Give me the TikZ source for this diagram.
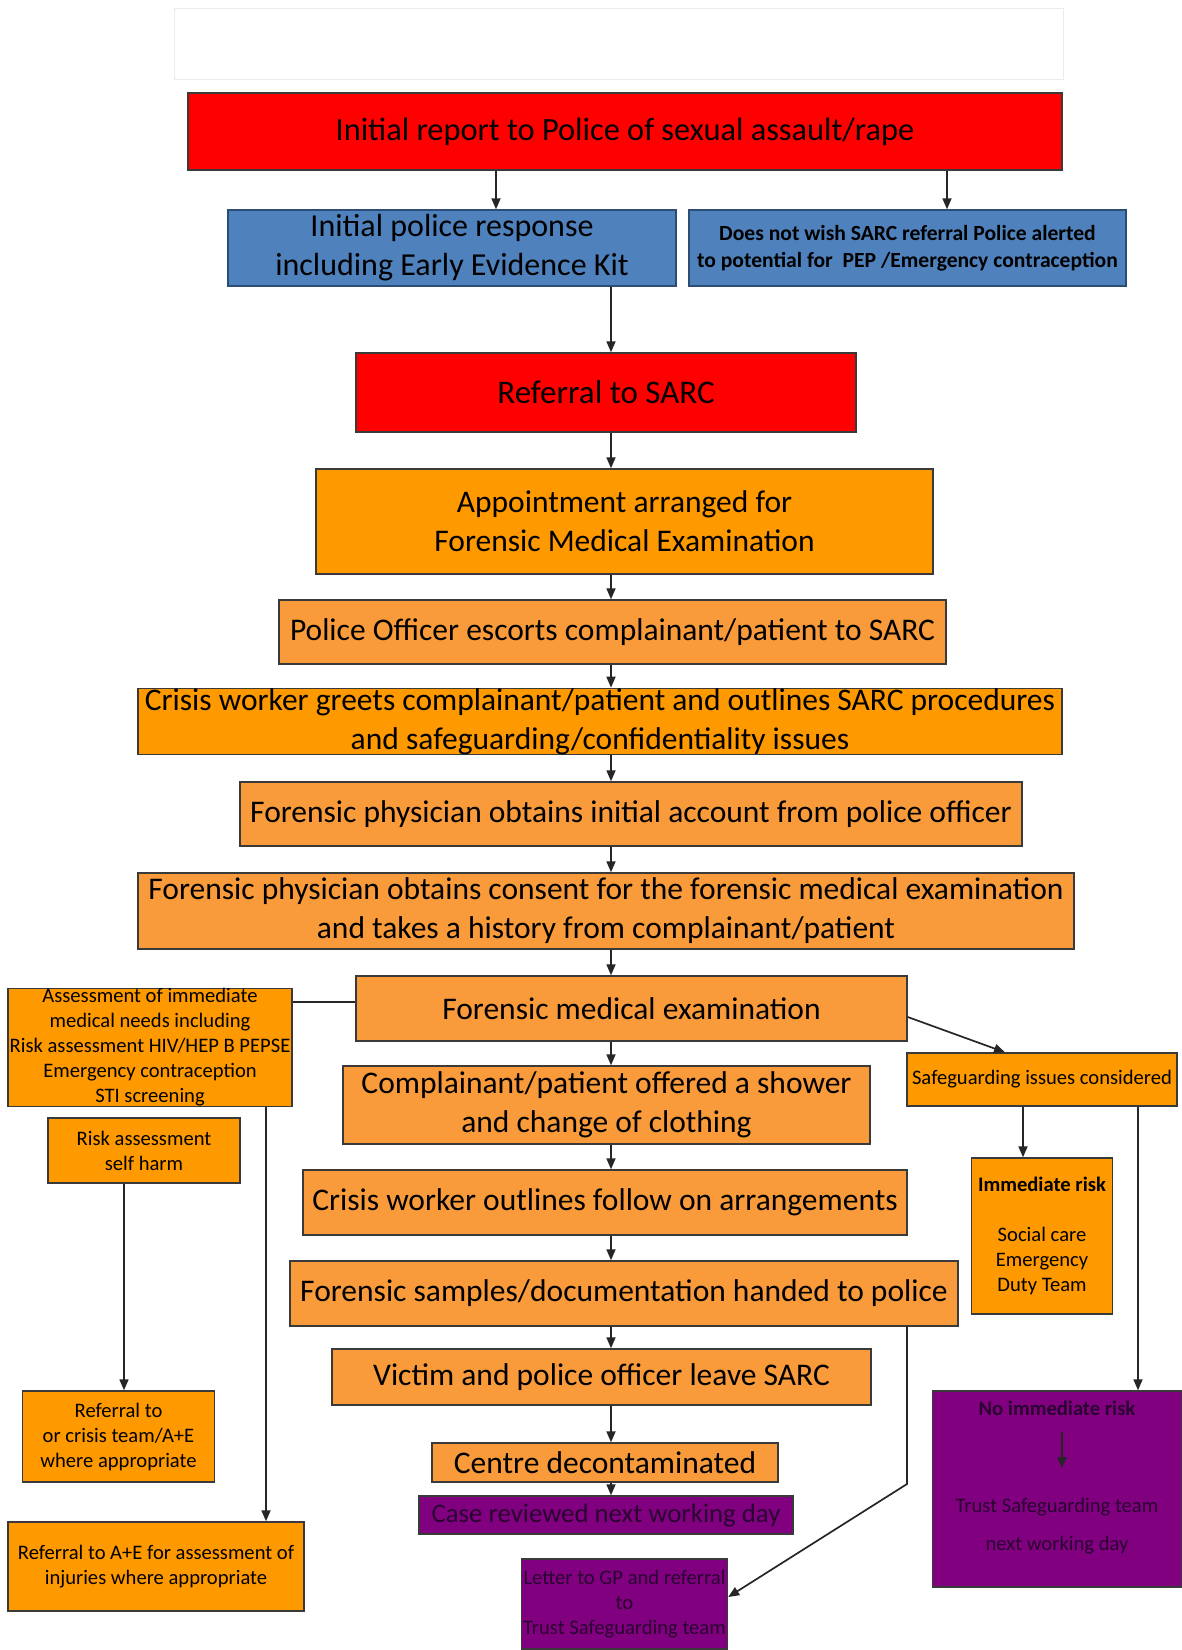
\documentclass[tikz,border=0pt]{standalone}
\usepackage{fontspec}
\setmainfont{Carlito}
\usetikzlibrary{arrows.meta}

\definecolor{sarcred}{HTML}{FF0000}
\definecolor{polblue}{HTML}{4F81BD}
\definecolor{polblueline}{HTML}{2C4D75}
\definecolor{orA}{HTML}{FF9900}
\definecolor{orB}{HTML}{F99B3A}
\definecolor{sarcpurple}{HTML}{800080}
\definecolor{purpletext}{HTML}{2A0030}
\definecolor{boxline}{HTML}{3A3A3A}
\definecolor{conn}{HTML}{262626}

\begin{document}
\begin{tikzpicture}[x=0.5pt,y=-0.5pt,
  box/.style={draw=boxline, line width=0.7pt, inner sep=0pt, align=center, text=black},
  redbox/.style={box, fill=sarcred},
  bluebox/.style={box, fill=polblue, draw=polblueline},
  orabox/.style={box, fill=orA},
  orbbox/.style={box, fill=orB},
  purbox/.style={box, fill=sarcpurple, text=purpletext},
  big/.style={font=\fontsize{15.75}{19.5}\selectfont},
  small/.style={font=\fontsize{10.3}{12.5}\selectfont},
  arr/.style={draw=conn, line width=0.85pt, -{Triangle[length=5.5pt,width=4.5pt]}},
  link/.style={draw=conn, line width=0.85pt},
]
\useasboundingbox[fill=white] (0,0) rectangle (1182,1650);

% faint empty header panel
\draw[black!8, line width=0.5pt] (174,8) rectangle (1063,79);

% ---- main column ----
\node[redbox, font=\fontsize{16.2}{19.5}\selectfont, minimum width=437pt, minimum height=38.5pt] (report) at (625,131.5)
  {Initial report to Police of sexual assault/rape};
\node[bluebox, font=\fontsize{16}{19.5}\selectfont, minimum width=224pt, minimum height=38pt] (police) at (452,248)
  {Initial police response\\including Early Evidence Kit};
\node[bluebox, font=\bfseries\fontsize{10.8}{13.5}\selectfont, minimum width=218.5pt, minimum height=38pt] (nosarc) at (907.5,248)
  {Does not wish SARC referral Police alerted\\to potential for\ \ PEP /Emergency contraception};
\node[redbox, font=\fontsize{16.5}{19.5}\selectfont, minimum width=250pt, minimum height=39.5pt] (sarcref) at (606,392.5)
  {Referral to SARC};
\node[orabox, big, minimum width=308.5pt, minimum height=52.5pt] (appt) at (624.5,521.5)
  {Appointment arranged for\\Forensic Medical Examination};
\node[orbbox, big, minimum width=333.5pt, minimum height=32pt] (escort) at (612.5,632)
  {Police Officer escorts complainant/patient to SARC};
\node[orabox, big, minimum width=462pt, minimum height=32.5pt] (greets) at (600,721.5)
  {Crisis worker greets complainant/patient and outlines SARC procedures\\and safeguarding/confidentiality issues};
\node[orbbox, big, minimum width=391pt, minimum height=32pt] (account) at (631,814)
  {Forensic physician obtains initial account from police officer};
\node[orbbox, big, minimum width=468pt, minimum height=38pt] (consent) at (606,911)
  {Forensic physician obtains consent for the forensic medical examination\\and takes a history from complainant/patient};
\node[orbbox, big, minimum width=275.5pt, minimum height=32.5pt] (exam) at (631.5,1008.5)
  {Forensic medical examination};
\node[orbbox, big, minimum width=263.5pt, minimum height=39pt] (shower) at (606.5,1105)
  {Complainant/patient offered a shower\\and change of clothing};
\node[orbbox, big, minimum width=302pt, minimum height=32.5pt] (followon) at (605,1202.5)
  {Crisis worker outlines follow on arrangements};
\node[orbbox, big, minimum width=334pt, minimum height=32.5pt] (samples) at (624,1293.5)
  {Forensic samples/documentation handed to police};
\node[orbbox, big, minimum width=269.5pt, minimum height=28pt] (leave) at (601.5,1377)
  {Victim and police officer leave SARC};
\node[orbbox, big, minimum width=173pt, minimum height=19.5pt] (decon) at (605,1462.5)
  {Centre decontaminated};
\node[purbox, font=\fontsize{13.4}{16}\selectfont, minimum width=187pt, minimum height=19pt] (review) at (606,1515)
  {Case reviewed next working day};
\node[purbox, small, minimum width=103pt, minimum height=45pt] (letter) at (624.5,1604)
  {Letter to GP and referral\\to\\Trust Safeguarding team};

% ---- left branch ----
\node[orabox, small, minimum width=142pt, minimum height=58.5pt] (assess) at (150,1047.5)
  {Assessment of immediate\\medical needs including\\Risk assessment HIV/HEP B PEPSE\\Emergency contraception\\STI screening};
\node[orabox, small, minimum width=96pt, minimum height=32.5pt] (selfharm) at (144,1150.5)
  {Risk assessment\\self harm};
\node[orabox, small, minimum width=96pt, minimum height=45.5pt] (crisisref) at (118.5,1436.5)
  {Referral to\\or crisis team/A+E\\where appropriate};
\node[orabox, small, minimum width=148pt, minimum height=44.5pt] (aeref) at (156,1566.5)
  {Referral to A+E for assessment of\\injuries where appropriate};

% ---- right branch ----
\node[orabox, small, minimum width=135pt, minimum height=26.5pt] (safeg) at (1042,1079.5)
  {Safeguarding issues considered};
\node[orabox, small, minimum width=70.5pt, minimum height=78pt] (immed) at (1042,1236)
  {\textbf{Immediate risk}\\[12.5pt]Social care\\Emergency\\Duty Team};
\node[purbox, minimum width=124.5pt, minimum height=98pt] (noimmed) at (1057,1489) {};
\node[font=\bfseries\fontsize{10.3}{12.5}\selectfont, text=purpletext, inner sep=0pt] (nirtitle) at (1057,1408)
  {No immediate risk};
\node[text=purpletext, align=center, font=\fontsize{10.3}{19}\selectfont, inner sep=0pt] (nirbody) at (1057,1526)
  {Trust Safeguarding team\\next working day};

% ---- connector positions ----
\coordinate (xa) at (496,0);
\coordinate (xb) at (947,0);
\coordinate (sp) at (611,0);
\coordinate (xas) at (266,0);
\coordinate (xsh) at (124,0);
\coordinate (xsg) at (1005,0);
\coordinate (xim) at (1023,0);
\coordinate (xni) at (1138,0);
\coordinate (xfs) at (907,0);
\coordinate (yex) at (0,1002);
\coordinate (yes) at (0,1017);
\coordinate (ylet) at (0,1597);
\coordinate (bend) at (907,1484);
\coordinate (nira) at (1062,1432);
\coordinate (nirb) at (1062,1468);

% ---- connectors ----
\draw[arr] (xa |- report.south) -- (xa |- police.north);
\draw[arr] (xb |- report.south) -- (xb |- nosarc.north);
\draw[arr] (sp |- police.south) -- (sp |- sarcref.north);
\draw[arr] (sp |- sarcref.south) -- (sp |- appt.north);
\draw[arr] (sp |- appt.south) -- (sp |- escort.north);
\draw[arr] (sp |- escort.south) -- (sp |- greets.north);
\draw[arr] (sp |- greets.south) -- (sp |- account.north);
\draw[arr] (sp |- account.south) -- (sp |- consent.north);
\draw[arr] (sp |- consent.south) -- (sp |- exam.north);
\draw[arr] (sp |- exam.south) -- (sp |- shower.north);
\draw[arr] (sp |- shower.south) -- (sp |- followon.north);
\draw[arr] (sp |- followon.south) -- (sp |- samples.north);
\draw[arr] (sp |- samples.south) -- (sp |- leave.north);
\draw[arr] (sp |- leave.south) -- (sp |- decon.north);
\draw[arr] (sp |- decon.south) -- (sp |- review.north);

\draw[link] (exam.west |- yex) -- (assess.east |- yex);
\draw[arr] (xas |- assess.south) -- (xas |- aeref.north);
\draw[arr] (xsh |- selfharm.south) -- (xsh |- crisisref.north);

\draw[arr] (exam.east |- yes) -- (xsg |- safeg.north);
\draw[arr] (xim |- safeg.south) -- (xim |- immed.north);
\draw[arr] (xni |- safeg.south) -- (xni |- noimmed.north);
\draw[arr] (nira) -- (nirb);

\draw[arr] (xfs |- samples.south) -- (bend) -- (letter.east |- ylet);
\end{tikzpicture}
\end{document}
